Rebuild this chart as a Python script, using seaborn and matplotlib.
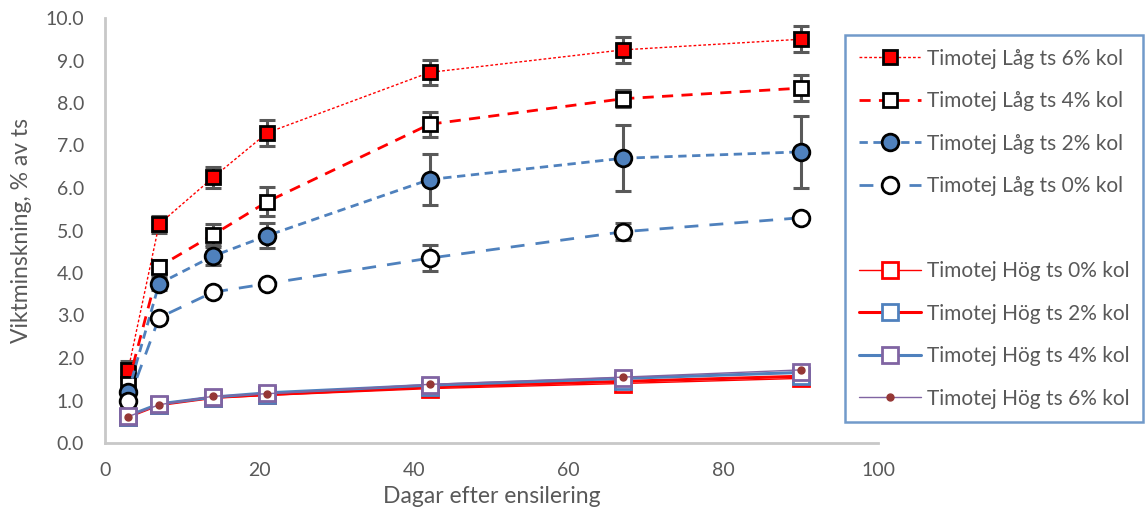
import numpy as np
import pandas as pd
import matplotlib
matplotlib.use("Agg")
import matplotlib.pyplot as plt
from matplotlib.lines import Line2D
import seaborn as sns

# days after ensiling
days = [3, 7, 14, 21, 42, 67, 90]

# weight loss, % of DM
lag_6 = [1.72, 5.15, 6.25, 7.30, 8.72, 9.25, 9.50]
lag_4 = [1.40, 4.15, 4.90, 5.68, 7.50, 8.10, 8.35]
lag_2 = [1.20, 3.75, 4.40, 4.88, 6.20, 6.70, 6.85]
lag_0 = [0.98, 2.95, 3.55, 3.75, 4.35, 4.97, 5.30]
hog_0 = [0.62, 0.90, 1.06, 1.12, 1.28, 1.40, 1.52]
hog_2 = [0.62, 0.90, 1.07, 1.14, 1.32, 1.45, 1.57]
hog_4 = [0.64, 0.92, 1.08, 1.18, 1.36, 1.52, 1.66]
hog_6 = [0.62, 0.90, 1.10, 1.16, 1.38, 1.55, 1.72]

# error bars (+/-)
err_lag_6 = [0.20, 0.20, 0.25, 0.30, 0.30, 0.30, 0.30]
err_lag_4 = [0.15, 0.15, 0.25, 0.35, 0.30, 0.20, 0.30]
err_lag_2 = [0.10, 0.15, 0.20, 0.30, 0.60, 0.78, 0.85]
err_lag_0 = [0.10, 0.10, 0.08, 0.08, 0.30, 0.20, 0.10]

labels = ["Timotej Låg ts 6% kol", "Timotej Låg ts 4% kol",
          "Timotej Låg ts 2% kol", "Timotej Låg ts 0% kol",
          "Timotej Hög ts 0% kol", "Timotej Hög ts 2% kol",
          "Timotej Hög ts 4% kol", "Timotej Hög ts 6% kol"]

RED = "#FF0000"
BLUE = "#4F81BD"
PURPLE = "#8064A2"
DARKRED = "#953735"
GREY = "#595959"

sns.set_style("white")
plt.rcParams['font.family'] = ['Lato', 'DejaVu Sans']

fig = plt.figure(figsize=(11.45, 5.15), dpi=100)
ax = fig.add_axes([105/1145, 1-443/515, (878-105)/1145, (443-18)/515])

# Låg ts series with error bars
lag = [
    (lag_6, err_lag_6, dict(color=RED, lw=1, ls=(0, (2, 1.5)), marker='s', ms=10.5, mfc=RED, mec='black', mew=2)),
    (lag_4, err_lag_4, dict(color=RED, lw=2, ls=(0, (4, 3)), marker='s', ms=10.5, mfc='white', mec='black', mew=2)),
    (lag_2, err_lag_2, dict(color=BLUE, lw=2, ls=(0, (3, 2)), marker='o', ms=12, mfc=BLUE, mec='black', mew=2)),
    (lag_0, err_lag_0, dict(color=BLUE, lw=2, ls=(0, (5, 4)), marker='o', ms=12, mfc='white', mec='black', mew=2)),
]
handles = []
for (vals, err, st), lab in zip(lag, labels[:4]):
    ax.errorbar(days, vals, yerr=err, fmt='none', ecolor=GREY, elinewidth=2.2,
                capsize=6, capthick=2.2, zorder=2)
    df = pd.DataFrame({'dag': days, 'v': vals})
    sns.lineplot(data=df, x='dag', y='v', ax=ax, zorder=3, **st)
    handles.append(Line2D([], [], **st))

# Hög ts series
hog = [
    (hog_0, dict(color=RED, lw=1, ls='-', marker='s', ms=11, mfc='white', mec=RED, mew=2)),
    (hog_2, dict(color=RED, lw=2.2, ls='-', marker='s', ms=11, mfc='white', mec=BLUE, mew=2)),
    (hog_4, dict(color=BLUE, lw=2.2, ls='-', marker='s', ms=11, mfc='white', mec=PURPLE, mew=2)),
    (hog_6, dict(color=PURPLE, lw=1, ls='-', marker='o', ms=5, mfc=DARKRED, mec=DARKRED, mew=1)),
]
for (vals, st) in hog:
    df = pd.DataFrame({'dag': days, 'v': vals})
    sns.lineplot(data=df, x='dag', y='v', ax=ax, zorder=4, **st)
    handles.append(Line2D([], [], **st))

blank = Line2D([], [], color='none')
leg_handles = handles[:4] + [blank] + handles[4:]
leg_labels = labels[:4] + [""] + labels[4:]

ax.set_xlim(0, 100)
ax.set_ylim(0, 10)
ax.set_xticks(np.arange(0, 101, 20))
ax.set_yticks(np.arange(0, 10.1, 1))
ax.set_yticklabels([f"{v:.1f}" for v in np.arange(0, 10.1, 1)])
ax.tick_params(axis='y', labelsize=14, colors='#595959', length=0, pad=15)
ax.tick_params(axis='x', labelsize=14, colors='#595959', length=0, pad=14)
ax.set_xlabel("Dagar efter ensilering", fontsize=16.5, color='#595959', labelpad=5)
ax.set_ylabel("Viktminskning, % av ts", fontsize=16.5, color='#595959', labelpad=10)
for s in ['top', 'right']:
    ax.spines[s].set_visible(False)
for s in ['left', 'bottom']:
    ax.spines[s].set_color('#C8C8C8')
    ax.spines[s].set_linewidth(2)
ax.grid(False)

leg = fig.legend(leg_handles, leg_labels, loc='upper left',
                 bbox_to_anchor=(845/1145, 1-35/515), bbox_transform=fig.transFigure,
                 fontsize=15, labelspacing=1.08, handlelength=3.0, handletextpad=0.3,
                 borderpad=0.65, borderaxespad=0, fancybox=False, frameon=True)
leg.get_frame().set_edgecolor(BLUE)
leg.get_frame().set_linewidth(1.8)
for t in leg.get_texts():
    t.set_color('#595959')

fig.savefig("out.png", dpi=100)
plt.close()
